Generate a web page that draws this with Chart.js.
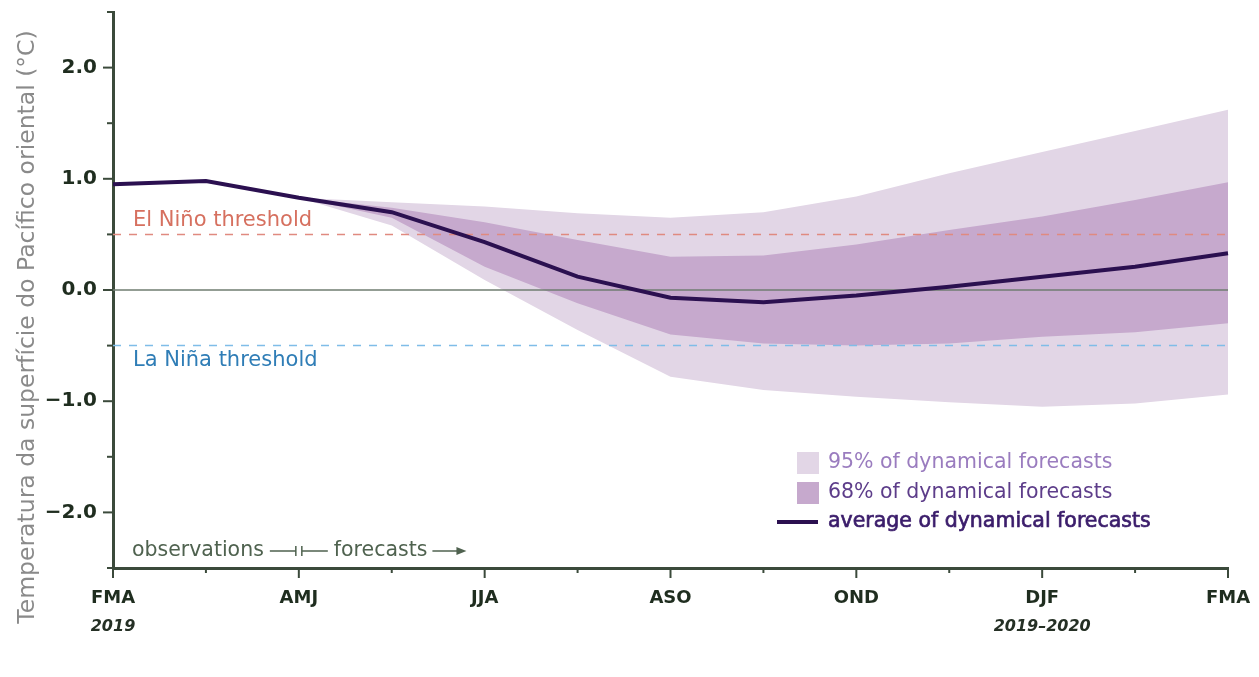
<!DOCTYPE html>
<html>
<head>
<meta charset="utf-8">
<script src="https://cdn.jsdelivr.net/npm/chart.js@4.4.1/dist/chart.umd.min.js"></script>
<style>
  html, body { margin: 0; padding: 0; background: #fff; }
  #wrap { width: 1259px; height: 677px; position: relative; }
</style>
</head>
<body>
<div id="wrap"><canvas id="ensoChart"></canvas></div>
<script>
// three-month seasons, FMA 2019 to FMA 2020
const seasons = ['FMA', 'MAM', 'AMJ', 'MJJ', 'JJA', 'JAS', 'ASO', 'SON', 'OND', 'NDJ', 'DJF', 'JFM', 'FMA'];
const yearLabels = ['2019', '', '', '', '', '', '', '', '', '', '2019\u20132020', '', ''];
const average = [0.95, 0.98, 0.83, 0.70, 0.43, 0.12, -0.07, -0.11, -0.05, 0.03, 0.12, 0.21, 0.33];
const upper95 = [null, null, 0.83, 0.79, 0.75, 0.69, 0.65, 0.70, 0.84, 1.05, 1.24, 1.43, 1.62];
const lower95 = [null, null, 0.83, 0.58, 0.09, -0.36, -0.78, -0.90, -0.96, -1.01, -1.05, -1.02, -0.94];
const upper68 = [null, null, 0.83, 0.74, 0.61, 0.45, 0.30, 0.31, 0.41, 0.54, 0.66, 0.81, 0.97];
const lower68 = [null, null, 0.83, 0.65, 0.21, -0.12, -0.40, -0.48, -0.50, -0.48, -0.42, -0.38, -0.30];
const elNino = 0.5;
const laNina = -0.5;
const forecastStart = 2; // index where the forecasts begin (AMJ)

const FONT = '"DejaVu Sans", sans-serif';
const AXIS = '#3b4a3b';

const flat = v => seasons.map(() => v);

const extras = {
    id: 'extras',
    afterDraw(chart) {
        const c = chart.ctx;
        const xs = chart.scales.x;
        const ys = chart.scales.y;
        const area = chart.chartArea;
        c.save();

        // tick marks, long on the labelled ones
        c.strokeStyle = AXIS;
        c.lineWidth = 2;
        seasons.forEach((s, i) => {
            const x = xs.getPixelForValue(i);
            const len = i % 2 === 0 ? 10 : 5;
            c.beginPath();
            c.moveTo(x, area.bottom);
            c.lineTo(x, area.bottom + len);
            c.stroke();
        });
        for (let v = -2.5; v <= 2.5; v += 0.5) {
            const y = ys.getPixelForValue(v);
            const len = Number.isInteger(v) ? 10 : 6;
            c.beginPath();
            c.moveTo(area.left - len, y);
            c.lineTo(area.left, y);
            c.stroke();
        }

        // year labels under the season names
        c.font = 'italic bold 16px ' + FONT;
        c.fillStyle = '#253025';
        c.textAlign = 'center';
        c.textBaseline = 'middle';
        yearLabels.forEach((t, i) => {
            if (t) c.fillText(t, xs.getPixelForValue(i), 627);
        });

        // threshold labels
        c.font = '21px ' + FONT;
        c.textAlign = 'left';
        c.fillStyle = '#d6705f';
        c.fillText('El Niño threshold', area.left + 20, ys.getPixelForValue(elNino) - 14);
        c.fillStyle = '#2f7db6';
        c.fillText('La Niña threshold', area.left + 20, ys.getPixelForValue(laNina) + 15);

        // observations / forecasts marker
        const by = 551;
        const bx = xs.getPixelForValue(forecastStart);
        c.font = '20.5px ' + FONT;
        c.fillStyle = '#4f624f';
        c.strokeStyle = '#4f624f';
        c.lineWidth = 1.5;
        c.textAlign = 'right';
        c.fillText('observations', bx - 35, by);
        c.beginPath();
        c.moveTo(bx - 29, by); c.lineTo(bx - 3, by);
        c.moveTo(bx - 3, by - 5); c.lineTo(bx - 3, by + 5);
        c.moveTo(bx + 3, by - 5); c.lineTo(bx + 3, by + 5);
        c.moveTo(bx + 3, by); c.lineTo(bx + 29, by);
        c.stroke();
        c.textAlign = 'left';
        c.fillText('forecasts', bx + 35, by);
        const fw = c.measureText('forecasts').width;
        const ax = bx + 40 + fw;
        c.beginPath();
        c.moveTo(ax, by); c.lineTo(ax + 28, by);
        c.stroke();
        c.beginPath();
        c.moveTo(ax + 34, by); c.lineTo(ax + 24, by - 4); c.lineTo(ax + 24, by + 4);
        c.closePath();
        c.fill();

        // legend
        c.font = '20.5px ' + FONT;
        c.fillStyle = '#e2d6e6';
        c.fillRect(797, 452, 22, 22);
        c.fillStyle = '#c6a9cd';
        c.fillRect(797, 482, 22, 22);
        c.fillStyle = '#9a7cbf';
        c.fillText('95% of dynamical forecasts', 828, 463);
        c.fillStyle = '#5d3d8a';
        c.fillText('68% of dynamical forecasts', 828, 493);
        c.strokeStyle = '#2b1050';
        c.lineWidth = 4;
        c.beginPath();
        c.moveTo(777, 522); c.lineTo(818, 522);
        c.stroke();
        c.fillStyle = '#3b1d6b';
        c.strokeStyle = '#3b1d6b';
        c.lineWidth = 0.7;
        c.fillText('average of dynamical forecasts', 828, 522);
        c.strokeText('average of dynamical forecasts', 828, 522);

        // y axis title, sized to the reference length
        const title = 'Temperatura da superfície do Pacífico oriental (°C)';
        c.font = '20px ' + FONT;
        const size = 20 * 592 / c.measureText(title).width;
        c.font = size.toFixed(1) + 'px ' + FONT;
        c.translate(28, 327);
        c.rotate(-Math.PI / 2);
        c.fillStyle = '#8a8a8a';
        c.textAlign = 'center';
        c.fillText(title, 0, 0);
        c.restore();
    }
};

const ctx = document.getElementById('ensoChart').getContext('2d');
new Chart(ctx, {
    type: 'line',
    data: {
        labels: seasons,
        datasets: [
            {
                label: 'average of dynamical forecasts',
                data: average,
                borderColor: '#2b1050',
                borderWidth: 4,
                pointRadius: 0,
                tension: 0,
                order: 0
            },
            {
                label: 'El Niño threshold',
                data: flat(elNino),
                borderColor: '#e08a80',
                borderWidth: 1.5,
                borderDash: [8, 8],
                pointRadius: 0,
                order: 1
            },
            {
                label: 'La Niña threshold',
                data: flat(laNina),
                borderColor: '#7fbde8',
                borderWidth: 1.5,
                borderDash: [8, 8],
                pointRadius: 0,
                order: 1
            },
            {
                label: 'zero',
                data: flat(0),
                borderColor: '#6f7d70',
                borderWidth: 1.5,
                pointRadius: 0,
                order: 2
            },
            {
                label: '68% upper',
                data: upper68,
                borderWidth: 0,
                borderColor: 'rgba(0,0,0,0)',
                backgroundColor: '#c6a9cd',
                fill: '+1',
                pointRadius: 0,
                order: 3
            },
            {
                label: '68% lower',
                data: lower68,
                borderWidth: 0,
                borderColor: 'rgba(0,0,0,0)',
                pointRadius: 0,
                order: 3
            },
            {
                label: '95% upper',
                data: upper95,
                borderWidth: 0,
                borderColor: 'rgba(0,0,0,0)',
                backgroundColor: '#e2d6e6',
                fill: '+1',
                pointRadius: 0,
                order: 4
            },
            {
                label: '95% lower',
                data: lower95,
                borderWidth: 0,
                borderColor: 'rgba(0,0,0,0)',
                pointRadius: 0,
                order: 4
            }
        ]
    },
    options: {
        responsive: true,
        maintainAspectRatio: false,
        animation: false,
        layout: { padding: { top: 12, right: 31, left: 0, bottom: 0 } },
        plugins: {
            legend: { display: false },
            tooltip: { enabled: false }
        },
        scales: {
            x: {
                type: 'category',
                offset: false,
                grid: { display: false, drawTicks: false },
                border: { display: true, color: AXIS, width: 3 },
                ticks: {
                    autoSkip: false,
                    maxRotation: 0,
                    padding: 20,
                    color: '#1f2d1f',
                    font: { family: FONT, size: 18, weight: 'bold' },
                    callback: function (val, i) { return i % 2 === 0 ? seasons[i] : ''; }
                },
                afterFit: s => { s.height = 109; s.paddingLeft = 0; s.paddingRight = 0; }
            },
            y: {
                min: -2.5,
                max: 2.5,
                grid: { display: false, drawTicks: false },
                border: { display: true, color: AXIS, width: 3 },
                ticks: {
                    stepSize: 0.5,
                    padding: 16,
                    color: '#1f2d1f',
                    font: { family: FONT, size: 20, weight: 'bold' },
                    callback: v => Number.isInteger(v) ? (v < 0 ? '\u2212' : '') + Math.abs(v).toFixed(1) : ''
                },
                afterFit: s => { s.width = 113; s.paddingTop = 0; s.paddingBottom = 0; }
            }
        }
    },
    plugins: [extras]
});
</script>
</body>
</html>
